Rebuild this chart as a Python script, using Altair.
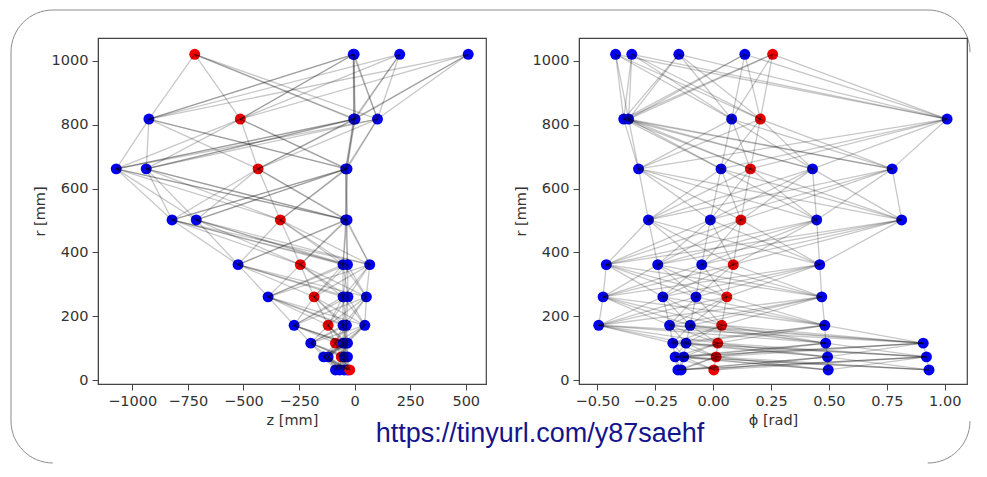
import altair as alt
import pandas as pd

# ---------------- data ----------------
LAYER_R = [1021, 818, 662, 502, 362, 261, 172, 116, 73, 32]

Z_MM = [
    [-719, -6, -2, 203, 511],
    [-925, -514, -4, 2, 103],
    [-1072, -937, -434, -40, -34],
    [-821, -712, -334, -40, -34],
    [-524, -244, -52, -32, 68],
    [-389, -182, -52, -30, 53],
    [-272, -119, -52, -37, 46],
    [-197, -86, -52, -40, -32],
    [-139, -119, -60, -47, -32],
    [-86, -67, -47, -32, -22],
]
Z_RED = [0, 1, 2, 2, 1, 1, 1, 1, 2, 4]

PHI_RAD = [
    [-0.421, -0.351, -0.148, 0.137, 0.257],
    [-0.386, -0.365, 0.080, 0.204, 1.010],
    [-0.322, 0.034, 0.161, 0.429, 0.773],
    [-0.279, -0.012, 0.120, 0.447, 0.814],
    [-0.461, -0.239, -0.049, 0.087, 0.460],
    [-0.475, -0.217, -0.074, 0.059, 0.469],
    [-0.494, -0.188, -0.099, 0.037, 0.482],
    [-0.174, -0.117, 0.020, 0.486, 0.907],
    [-0.164, -0.127, 0.013, 0.494, 0.921],
    [-0.152, -0.138, 0.003, 0.497, 0.932],
]
PHI_RED = [4, 3, 2, 2, 3, 3, 3, 2, 2, 2]

Z_TICKS = [-1000, -750, -500, -250, 0, 250, 500]
PHI_TICKS = [-0.5, -0.25, 0.0, 0.25, 0.5, 0.75, 1.0]
R_TICKS = [0, 200, 400, 600, 800, 1000]
URL = ["https://tinyurl.com/y87saehf"]


def nodes(vals, red):
    rows = []
    for li, (r, vs) in enumerate(zip(LAYER_R, vals)):
        for i, v in enumerate(vs):
            rows.append({"x": v, "r": r, "hit": "red" if i == red[li] else "blue"})
    return pd.DataFrame(rows)


def edges(vals):
    rows = []
    for li in range(len(LAYER_R) - 1):
        for a in vals[li]:
            for b in vals[li + 1]:
                rows.append({"x": a, "x2": b, "r": LAYER_R[li], "r2": LAYER_R[li + 1]})
    return pd.DataFrame(rows)


W, H = 388, 346
Y_SCALE = alt.Scale(domain=[-12, 1072], nice=False, zero=False)


def panel(vals, red, domain, ticks, fmt, xtitle, extra):
    xs = alt.Scale(domain=domain, nice=False, zero=False)
    xaxis = alt.Axis(values=ticks, format=fmt, title=xtitle, titlePadding=6)
    yaxis = alt.Axis(values=R_TICKS, format="d", title="r [mm]", titlePadding=4)
    pts = alt.Chart(nodes(vals, red)).mark_circle(size=120, opacity=1).encode(
        x=alt.X("x:Q", scale=xs, axis=xaxis),
        y=alt.Y("r:Q", scale=Y_SCALE, axis=yaxis),
        color=alt.Color(
            "hit:N",
            scale=alt.Scale(domain=["blue", "red"], range=["#0000ee", "#ee0000"]),
            legend=None,
        ),
    )
    ed = alt.Chart(edges(vals)).mark_rule(
        color="black", opacity=0.22, strokeWidth=1.3
    ).encode(x="x:Q", x2="x2:Q", y="r:Q", y2="r2:Q")
    return alt.layer(*extra, pts, ed).properties(width=W, height=H)


# rounded page border (right side and bottom edge hidden, as they fall outside the reference)
frame = alt.Chart(pd.DataFrame({"k": [0]})).mark_rect(
    fillOpacity=0, stroke="#8c8c8c", strokeWidth=1, cornerRadius=42,
    strokeDash=[941, 369, 66, 875, 501, 0],
).encode(
    x=alt.value(-87), x2=alt.value(872), y=alt.value(-28), y2=alt.value(425)
)

url = alt.Chart(pd.DataFrame({"t": URL})).mark_text(
    font="Liberation Sans", fontSize=27, color="#14148c",
    align="center", baseline="middle",
).encode(text="t:N", x=alt.value(442), y=alt.value(396))

left = panel(Z_MM, Z_RED, [-1154, 591], Z_TICKS, "d", "z [mm]", [frame])
right = panel(PHI_RAD, PHI_RED, [-0.579, 1.096], PHI_TICKS, ".2f", "ϕ [rad]", [])

chart = alt.hconcat(
    alt.layer(left, url), right, spacing=93, bounds="flush"
).properties(
    padding={"left": 1, "top": 0, "right": 0, "bottom": 0},
    background="white",
).configure_view(
    stroke="#444444", strokeWidth=1.2
).configure_axis(
    labelFont="DejaVu Sans", labelFontSize=14.5, labelColor="#333333",
    titleFont="DejaVu Sans", titleFontSize=14.5, titleColor="#333333",
    titleFontWeight="normal", tickColor="#444444", domainColor="#444444",
    tickSize=6, labelPadding=4, grid=False,
)

chart.save("out.html", embed_options={"renderer": "svg", "actions": False})
